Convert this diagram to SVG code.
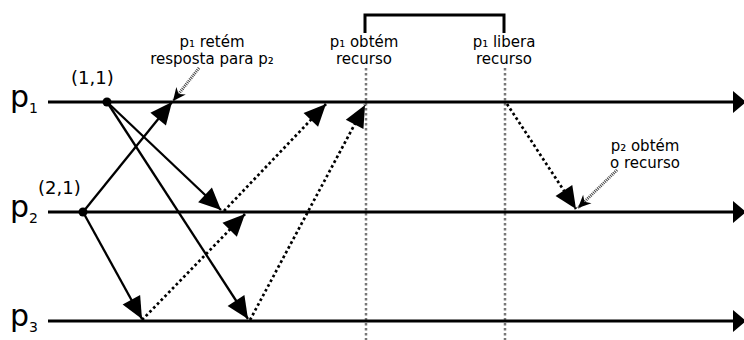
<svg xmlns="http://www.w3.org/2000/svg" width="744" height="340" viewBox="0 0 744 340">
<defs>
<marker id="big" markerUnits="userSpaceOnUse" markerWidth="24" markerHeight="22" refX="22" refY="10" orient="auto" overflow="visible">
<path d="M0,0 L22,10 L0,20 z" fill="#000" stroke="none"/>
</marker>
<marker id="small" markerUnits="userSpaceOnUse" markerWidth="14" markerHeight="14" refX="13" refY="6" orient="auto" overflow="visible">
<path d="M0,0 L13,6 L0,12 L4,6 z" fill="#000" stroke="none"/>
</marker>
</defs>
<style>
.proc{stroke:#000;stroke-width:3;fill:none}
.msg{stroke:#000;stroke-width:2.3;fill:none;marker-end:url(#big)}
.dot{stroke:#000;stroke-width:2.7;stroke-dasharray:2.7 2.7;fill:none;marker-end:url(#big)}
.guide{stroke:#777;stroke-width:2.5;stroke-dasharray:2.5 2.5;fill:none}
.note{stroke:#444;stroke-width:3;stroke-dasharray:1 1;fill:none;marker-end:url(#small)}
text{font-family:"DejaVu Sans",sans-serif;fill:#000}
.lbl{font-size:15px;text-anchor:middle}
.pn{font-size:30px}
.sub{font-size:14px}
.ev{font-size:18px}
</style>
<g id="guides">
<line class="guide" x1="366" y1="68" x2="366" y2="340"/>
<line class="guide" x1="505" y1="68" x2="505" y2="340"/>
<path d="M365,33 V15 H504 V33" stroke="#000" stroke-width="3" fill="none"/>
</g>
<g id="p1">
<line class="proc" x1="48" y1="102" x2="735" y2="102"/>
<polygon points="733,91 746,102 733,113" fill="#000"/>
<text x="10" y="107" class="pn">p<tspan class="sub" dy="6">1</tspan></text>
</g>
<g id="p2">
<line class="proc" x1="48" y1="212" x2="735" y2="212"/>
<polygon points="733,201 746,212 733,223" fill="#000"/>
<text x="10" y="217" class="pn">p<tspan class="sub" dy="6">2</tspan></text>
</g>
<g id="p3">
<line class="proc" x1="48" y1="321" x2="735" y2="321"/>
<polygon points="733,310 746,321 733,332" fill="#000"/>
<text x="10" y="326" class="pn">p<tspan class="sub" dy="6">3</tspan></text>
</g>
<g id="e11">
<circle cx="107" cy="102" r="4.5" fill="#000"/>
<text x="71" y="84" class="ev">(1,1)</text>
</g>
<g id="e21">
<circle cx="83" cy="212" r="4.5" fill="#000"/>
<text x="38" y="194" class="ev">(2,1)</text>
</g>
<g id="connectors">
<line class="msg" x1="83" y1="212" x2="172" y2="102"/>
<line class="msg" x1="107" y1="102" x2="221" y2="210"/>
<line class="msg" x1="107" y1="102" x2="248" y2="319"/>
<line class="msg" x1="83" y1="212" x2="142" y2="319"/>
<line class="dot" x1="142" y1="320" x2="245" y2="214"/>
<line class="dot" x1="224" y1="211" x2="326" y2="104"/>
<line class="dot" x1="250" y1="320" x2="365" y2="105"/>
<line class="dot" x1="507" y1="104" x2="576" y2="209"/>
<line class="note" x1="199" y1="68" x2="173" y2="101"/>
<line class="note" x1="617" y1="170" x2="578" y2="208"/>
</g>
<g id="label-retem">
<text x="212" y="47" class="lbl">p₁ retém</text>
<text x="212" y="64" class="lbl">resposta para p₂</text>
</g>
<g id="label-obtem">
<text x="364" y="47" class="lbl">p₁ obtém</text>
<text x="364" y="64" class="lbl">recurso</text>
</g>
<g id="label-libera">
<text x="504" y="47" class="lbl">p₁ libera</text>
<text x="504" y="64" class="lbl">recurso</text>
</g>
<g id="label-p2obtem">
<text x="645" y="151" class="lbl">p₂ obtém</text>
<text x="645" y="168" class="lbl">o recurso</text>
</g>
</svg>
